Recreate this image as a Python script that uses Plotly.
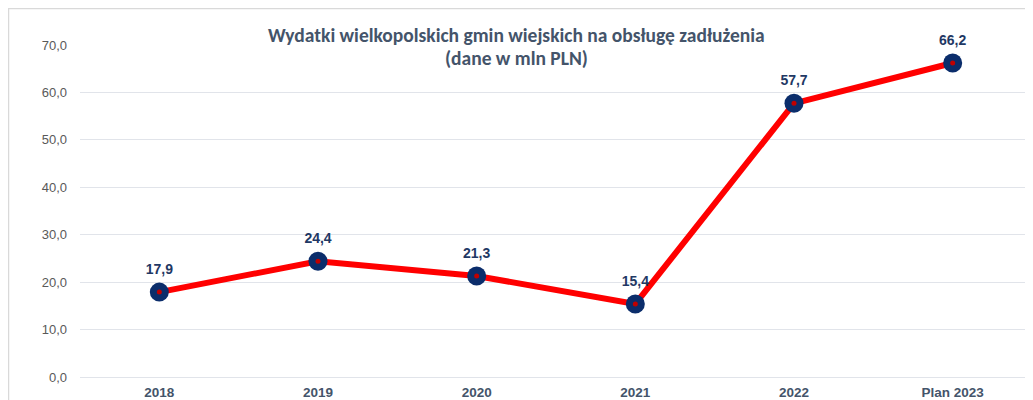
import plotly.graph_objects as go

categories = ["2018", "2019", "2020", "2021", "2022", "Plan 2023"]
values = [17.9, 24.4, 21.3, 15.4, 57.7, 66.2]
value_labels = ["17,9", "24,4", "21,3", "15,4", "57,7", "66,2"]
y_ticks = [0, 10, 20, 30, 40, 50, 60, 70]
y_tick_labels = ["0,0", "10,0", "20,0", "30,0", "40,0", "50,0", "60,0", "70,0"]
title_lines = ["Wydatki wielkopolskich gmin wiejskich na obsługę zadłużenia", "(dane w mln PLN)"]

W, H = 1025, 392
L, R, T, B = 72, 1, 37, 23
PH = H - T - B

fig = go.Figure()
fig.add_trace(go.Scatter(
    x=categories, y=values, mode="lines+markers",
    line=dict(color="#FF0000", width=6),
    marker=dict(size=19, color="#0B2D6B", line=dict(width=0)),
    cliponaxis=False, hoverinfo="skip", showlegend=False,
))
fig.add_trace(go.Scatter(
    x=categories, y=values, mode="markers",
    marker=dict(size=5, color="#C00000"),
    cliponaxis=False, hoverinfo="skip", showlegend=False,
))
fig.add_trace(go.Scatter(
    x=categories, y=values, mode="markers+text",
    marker=dict(size=22, color="rgba(0,0,0,0)"),
    text=["<b>%s</b>" % t for t in value_labels],
    textposition="top center",
    textfont=dict(family="Liberation Sans, Arial, sans-serif", size=14, color="#1F3864"),
    cliponaxis=False, hoverinfo="skip", showlegend=False,
))

title_font = dict(family="Carlito, Lato, sans-serif", size=19.5, color="#44546A")
annotations = []
for line, ypx in zip(title_lines, [27, 50]):
    annotations.append(dict(
        text="<b>%s</b>" % line, xref="paper", yref="paper",
        x=(508.5 - L) / (W - L - R), y=1 + (T - ypx) / PH,
        xanchor="center", yanchor="middle", showarrow=False, font=title_font,
    ))

fig.update_layout(
    width=W, height=H,
    margin=dict(l=L, r=R, t=T, b=B),
    paper_bgcolor="white", plot_bgcolor="white",
    annotations=annotations,
    xaxis=dict(
        type="category", showgrid=False, showline=False, zeroline=False,
        ticks="", ticklabelstandoff=5, automargin=False,
        tickfont=dict(family="Liberation Sans, Arial, sans-serif", size=13.5, color="#44546A", weight="bold"),
        range=[-0.5, 5.5],
    ),
    yaxis=dict(
        range=[0, 70], tickvals=y_ticks, ticktext=y_tick_labels,
        showgrid=True, gridcolor="#E1E4EA", gridwidth=1.3,
        zeroline=True, zerolinecolor="#E1E4EA", zerolinewidth=1.3,
        showline=False, ticks="", ticklabelstandoff=12, automargin=False,
        tickfont=dict(family="Liberation Sans, Arial, sans-serif", size=13, color="#595959"),
    ),
    shapes=[
        dict(type="line", xref="paper", yref="paper", x0=-L / (W - L - R), x1=1.01,
             y0=1 + (T - 0.5) / PH, y1=1 + (T - 0.5) / PH,
             line=dict(color="#D9D9D9", width=1.5)),
        dict(type="line", xref="paper", yref="paper", x0=-(L - 0.5) / (W - L - R), x1=-(L - 0.5) / (W - L - R),
             y0=1 + T / PH, y1=-0.1,
             line=dict(color="#D9D9D9", width=1.5)),
    ],
)

fig.write_html("out.html")
